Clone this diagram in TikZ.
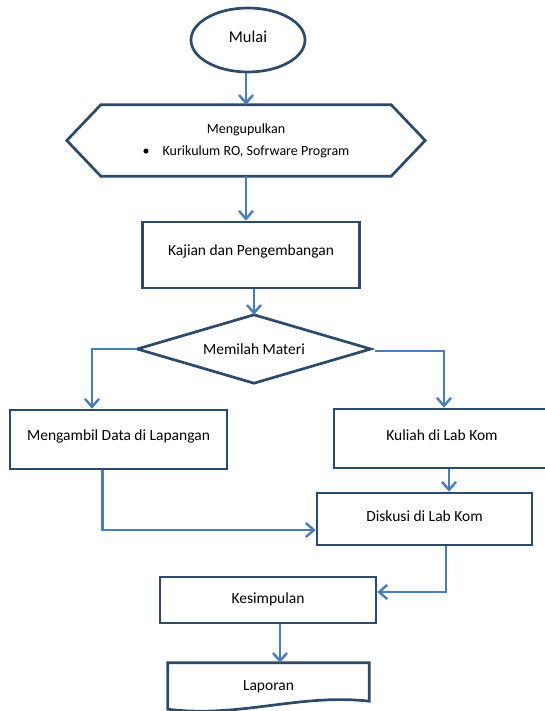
\documentclass[tikz,border=0pt]{standalone}
\usepackage{fontspec}
\setmainfont{Carlito}
\usetikzlibrary{shapes.geometric,arrows.meta,calc}
\definecolor{boxc}{HTML}{2E4A6B}
\definecolor{arrc}{HTML}{4A7EBB}
\begin{document}
\begin{tikzpicture}[x=1pt,y=-1pt,
  box/.style={draw=boxc, line width=2.7pt, fill=white, inner sep=0pt},
  ghost/.style={draw=none, inner sep=0pt},
  shp/.style={draw=boxc, line width=2.7pt, line join=miter},
  conn/.style={draw=arrc, line width=2.4pt, -{Straight Barb[length=8pt,width=14pt]}},
  lbl/.style={font=\fontsize{15.5}{18}\selectfont, text=black}]
\useasboundingbox (0,0) rectangle (545,711);
\clip (0,0) rectangle (545,711);
\fill[white] (0,0) rectangle (545,711);

% Mulai
\node[box, ellipse, minimum width=114, minimum height=64, lbl, font=\fontsize{16.5}{19}\selectfont] (mulai) at (248,40) {\raisebox{7pt}{Mulai}};

% Hexagon
\node[ghost, minimum width=358, minimum height=71, align=center,
      font=\fontsize{14}{22}\selectfont] (hex) at (246,140.5)
      {Mengupulkan\\\textbullet\hspace{13pt}Kurikulum RO, Sofrware Program};
\draw[shp] (hex.west) -- ($(hex.north west)+(34,0)$) -- ($(hex.north east)+(-34,0)$)
  -- (hex.east) -- ($(hex.south east)+(-34,0)$) -- ($(hex.south west)+(34,0)$) -- cycle;

% Kajian
\node[box, rectangle, minimum width=216.5, minimum height=66, lbl] (kajian) at (251,255) {\raisebox{9pt}{Kajian dan Pengembangan}};

% Diamond
\node[ghost, minimum width=233, minimum height=68, lbl] (dia) at (254,349) {Memilah Materi};
\draw[shp] (dia.west) -- (dia.north) -- (dia.east) -- (dia.south) -- cycle;

% Left / right boxes
\node[box, rectangle, minimum width=217, minimum height=59, lbl] (ambil) at (118.5,439.5) {\raisebox{8.5pt}{Mengambil Data di Lapangan}};
\node[box, rectangle, minimum width=216, minimum height=59, lbl] (kuliah) at (442,438.5) {\raisebox{7.5pt}{Kuliah di Lab Kom}};

% Diskusi
\node[box, rectangle, minimum width=215, minimum height=52, lbl] (diskusi) at (424.5,519) {\raisebox{6pt}{Diskusi di Lab Kom}};

% Kesimpulan
\node[box, rectangle, minimum width=216, minimum height=46, lbl] (kesimpulan) at (268,600) {\raisebox{3pt}{Kesimpulan}};

% Laporan (document shape)
\node[ghost, minimum width=201, minimum height=48, lbl] (laporan) at (268.5,687) {\raisebox{2pt}{Laporan}};
\draw[shp] (laporan.north west) -- (laporan.north east) -- ($(laporan.south east)+(0,-10)$)
  .. controls ($(laporan.south east)+(-69,-18)$) and ($(laporan.south west)+(72,7)$) .. ($(laporan.south west)+(0,-2)$) -- cycle;

% Connectors
\draw[conn] (mulai.south -| hex.north) -- (hex.north);
\draw[conn] (hex.south) -- (hex.south |- kajian.north);
\draw[conn] (kajian.south -| dia.north) -- (dia.north);
\draw[conn] (dia.west) -| ($(ambil.north)+(-26.5,0)$);
\draw[conn] ($(dia.east)+(4,2)$) -| ($(kuliah.north)+(2,0)$);
\draw[conn] ($(kuliah.south)+(7,0)$) coordinate (k1) -- (k1 |- diskusi.north);
\draw[conn] ($(ambil.south)+(-16,0)$) |- ($(diskusi.west)+(0,11)$);
\draw[conn] ($(diskusi.south)+(21.5,0)$) |- ($(kesimpulan.east)+(0,-8)$);
\draw[conn] ($(kesimpulan.south)+(12,0)$) coordinate (k2) -- (k2 |- laporan.north);
\end{tikzpicture}
\end{document}
